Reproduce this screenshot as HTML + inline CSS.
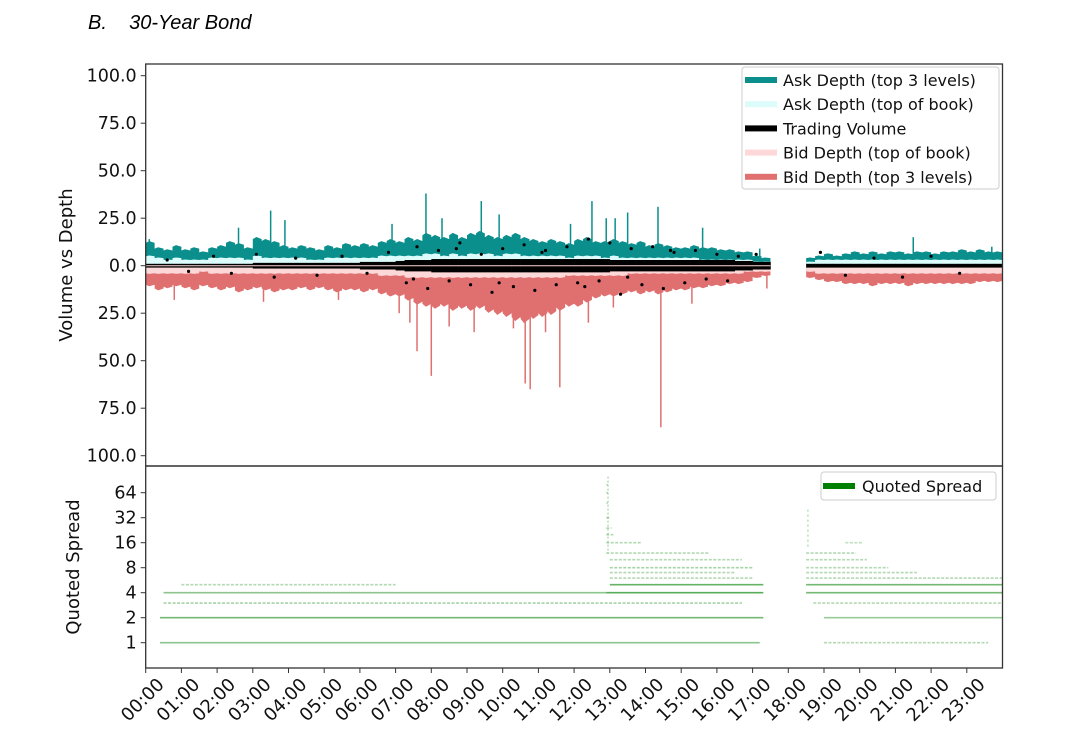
<!DOCTYPE html>
<html><head><meta charset="utf-8"><style>
body{margin:0;background:#fff;}
svg{display:block;font-family:"DejaVu Sans","Liberation Sans",sans-serif;}
</style></head><body>
<svg id="chart" width="1081" height="744" viewBox="0 0 1081 744" xmlns="http://www.w3.org/2000/svg">
<text x="88" y="29" font-family="Liberation Sans, sans-serif" font-style="italic" font-size="20">B.&#160;&#160;&#160;&#160;30-Year Bond</text>
<g id="topG"></g><g id="botG"></g>
</svg>
<script>
const hoursLabels=["00:00","01:00","02:00","03:00","04:00","05:00","06:00","07:00","08:00","09:00","10:00","11:00","12:00","13:00","14:00","15:00","16:00","17:00","18:00","19:00","20:00","21:00","22:00","23:00"];
const depthTicks=[100,75,50,25,0,-25,-50,-75,-100];
const spreadTicks=[64,32,16,8,4,2,1];
// 15-minute bins, null = no trading
const ask3=[12,9,8,10, 8,9,7,9, 10,12,11,9, 14,13,12,10, 9,10,9,8, 10,9,11,10, 11,10,12,13, 12,14,13,16, 15,14,16,14, 16,17,15,14, 15,16,14,13, 12,13,12,11, 13,14,12,12, 13,12,11,12, 10,11,10,9, 9,10,9,9, 8,8,7,7, 5,4,null,null, null,null,4,5, 6,5,6,7, 6,7,6,7, 7,6,7,7, 6,7,7,8, 7,8,7,7];
const askTob=[5,4,3,4, 3,3,3,4, 4,4,4,3, 5,4,4,4, 4,4,3,3, 4,4,4,4, 4,4,5,5, 5,5,5,6, 6,5,6,5, 6,6,6,5, 6,6,5,5, 5,5,5,4, 5,5,5,4, 5,4,4,4, 4,4,4,4, 4,4,3,3, 3,3,3,3, 2,2,null,null, null,null,2,3, 3,3,3,3, 3,3,3,3, 3,3,3,3, 3,3,3,3, 3,3,3,3];
const bid3=[-10,-12,-11,-10, -11,-12,-10,-11, -12,-11,-13,-12, -11,-12,-13,-12, -12,-11,-12,-11, -12,-13,-12,-12, -13,-12,-14,-15, -15,-17,-19,-20, -21,-20,-22,-21, -22,-21,-23,-24, -25,-27,-28,-26, -25,-24,-22,-20, -20,-18,-16,-15, -15,-14,-13,-14, -13,-14,-13,-12, -12,-11,-11,-10, -10,-9,-9,-8, -6,-5,null,null, null,null,-6,-7, -8,-8,-9,-9, -9,-10,-9,-9, -9,-10,-9,-9, -9,-9,-9,-9, -9,-8,-8,-8];
const bidTob=[-4,-4,-4,-4, -4,-4,-3,-4, -4,-4,-4,-4, -4,-4,-4,-4, -4,-4,-4,-4, -4,-4,-4,-4, -4,-4,-5,-5, -5,-6,-6,-6, -6,-6,-6,-6, -6,-6,-6,-6, -6,-6,-6,-6, -6,-6,-6,-5, -5,-5,-5,-5, -5,-5,-4,-4, -4,-4,-4,-4, -4,-4,-4,-4, -4,-4,-4,-3, -3,-3,null,null, null,null,-3,-4, -4,-4,-4,-4, -4,-4,-4,-4, -4,-4,-4,-4, -4,-4,-4,-4, -4,-4,-4,-4];
const volume=[1,1,1,1, 1,1,1,1, 1,1,1,1, 1.5,1.5,1.5,1.5, 1.5,1.5,1.5,1.5, 1.5,1.5,1.5,1.5, 2,2,2,2, 2.5,3,3,3, 3.5,3.5,3.5,3.5, 3.5,3.5,3.5,3.5, 3.5,3.5,3.5,3.5, 3.5,3.5,3.5,3.5, 3.5,3.5,3.5,3.5, 3,3,3,3, 3,3,3,3, 3,3,3,3, 3,3,2.5,2.5, 2,2,null,null, null,null,1,1, 1,1,1,1, 1,1,1,1, 1,1,1,1, 1,1,1,1, 1,1,1,1];
const askSpikeHours=[0.1,2.6,3.5,3.9,6.9,7.85,8.3,9.4,9.9,11.9,12.5,12.9,13.15,13.5,14.35,15.6,17.2,21.5,23.7];
const askSpikeValues=[14,20,29,24,22,38,25,34,27,22,34,25,25,28,31,20,9,15,10];
const bidSpikeHours=[0.8,3.3,5.4,7.1,7.4,7.6,8.0,8.5,9.2,10.3,10.63,10.77,11.2,11.6,12.4,13.1,14.43,15.3,17.4];
const bidSpikeValues=[-18,-19,-18,-25,-30,-45,-58,-32,-35,-33,-62,-65,-35,-64,-30,-22,-85,-20,-12];
const dotHours=[0.6,1.2,1.9,2.4,3.1,3.6,4.2,4.8,5.5,6.2,6.8,7.3,7.6,7.9,8.2,8.5,8.8,9.1,9.4,9.7,10.0,10.3,10.6,10.9,11.2,11.5,11.8,12.1,12.4,12.7,13.0,13.3,13.6,13.9,14.2,14.5,14.8,15.1,15.4,15.7,16.0,16.3,16.6,17.1,18.9,19.6,20.4,21.2,22.0,22.8,7.5,8.7,9.9,11.1,12.3,13.5,14.7];
const dotValues=[3,-3,5,-4,6,-6,4,-5,5,-4,7,-9,10,-12,8,-8,12,-10,6,-14,9,-11,11,-13,8,-10,10,-9,14,-8,12,-15,9,-10,10,-12,7,-9,8,-7,6,-8,5,6,7,-5,4,-6,5,-4,-7,9,-9,7,-11,-6,8];
const spreadLevel=[1,1,2,2,3,3,4,4,4,5,5,5,6,6,7,7,8,8,10,10,12,12,16,16,20,24,32,48,64,80];
const spreadStart=[0.4,19.0,0.4,19.0,0.5,18.7,0.5,12.9,18.5,1.0,13.0,18.5,13.0,18.5,13.0,18.5,13.0,18.5,13.0,18.5,12.9,18.5,12.9,19.6,12.9,12.9,12.9,12.9,12.9,12.9];
const spreadEnd=[17.2,23.6,17.3,24,16.7,24,12.9,17.3,24,7.0,17.3,24,17.0,24,16.5,21.6,17.0,20.8,16.7,20.2,15.8,19.9,13.9,20.1,13.1,13.05,13.0,12.95,12.95,12.95];
const spreadAlpha=[0.45,0.3,0.55,0.4,0.35,0.3,0.45,0.65,0.55,0.3,0.6,0.55,0.3,0.3,0.3,0.3,0.35,0.3,0.3,0.3,0.3,0.3,0.3,0.25,0.3,0.3,0.3,0.25,0.3,0.25];

const NS="http://www.w3.org/2000/svg";
const X0=145.7,PXH=35.7,X1=1002.5;
const T0=64,T1=466,B1=668;
const xS=h=>X0+h*PXH;
const yD=v=>265.7-v*1.9;
const yQ=v=>642.7-Math.log2(v)*25;
const topG=document.getElementById('topG'),botG=document.getElementById('botG');
function mk(p,tag,at){const e=document.createElementNS(NS,tag);for(const k in at)e.setAttribute(k,at[k]);p.appendChild(e);return e;}

function area(arr,color,name){
  let segs=[],cur=[];
  arr.forEach((v,i)=>{if(v===null){if(cur.length)segs.push(cur);cur=[];}else cur.push([i,v]);});
  if(cur.length)segs.push(cur);
  segs.forEach(s=>{
    let d=`M${xS(s[0][0]*0.25)},${yD(0)}`;
    s.forEach(([i,v])=>{d+=`L${xS(i*0.25)},${yD(v)}L${xS(i*0.25+0.1)},${yD(v*1.08)}L${xS(i*0.25+0.25)},${yD(v)}`;});
    d+=`L${xS(s[s.length-1][0]*0.25+0.25)},${yD(0)}Z`;
    const p=mk(topG,'path',{d:d,fill:color});
    
    
  });
}
function bandArea(arr,color,name){
  arr.forEach((v,i)=>{if(v===null)return;
    const r=mk(topG,'rect',{x:xS(i*0.25),y:yD(v),width:PXH*0.25+0.3,height:yD(-v)-yD(v),fill:color});
    
    
  });
}
area(ask3,'#0a8f8c','ask-depth-top3');
askSpikeHours.forEach((h,i)=>{const l=mk(topG,'line',{x1:xS(h),x2:xS(h),y1:yD(0),y2:yD(askSpikeValues[i]),stroke:'#0a8f8c','stroke-width':1.5});
  });
area(askTob,'#dcfcfc','ask-depth-top-of-book');
area(bid3,'#e07070','bid-depth-top3');
bidSpikeHours.forEach((h,i)=>{const l=mk(topG,'line',{x1:xS(h),x2:xS(h),y1:yD(0),y2:yD(bidSpikeValues[i]),stroke:'#e07070','stroke-width':1.5});
  });
area(bidTob,'#fdd8d8','bid-depth-top-of-book');
bandArea(volume,'#000','trading-volume-band');
mk(topG,'line',{x1:X0,x2:xS(17.5),y1:yD(0),y2:yD(0),stroke:'#fdd8d8','stroke-width':1});
dotHours.forEach((h,i)=>{const c=mk(topG,'circle',{cx:xS(h),cy:yD(dotValues[i]),r:1.6,fill:'#000'});
  });

const fr=mk(topG,'rect',{x:X0,y:T0,width:X1-X0,height:T1-T0,fill:'none',stroke:'#333','stroke-width':1.3});

depthTicks.forEach(v=>{
  mk(topG,'line',{x1:X0-5,x2:X0,y1:yD(v),y2:yD(v),stroke:'#333'});
  const t=mk(topG,'text',{x:X0-9,y:yD(v)+6,'text-anchor':'end','font-size':17.5,fill:'#111'});
  t.textContent=Math.abs(v).toFixed(1);
  
});
const yl=mk(topG,'text',{x:0,y:0,transform:'translate(72,265) rotate(-90)','text-anchor':'middle','font-size':18,fill:'#111'});
yl.textContent='Volume vs Depth';

const lg=mk(topG,'g',{});
mk(lg,'rect',{x:742,y:67,width:257,height:122,rx:3,fill:'#fff',stroke:'#ccc'});
const legNames=['Ask Depth (top 3 levels)','Ask Depth (top of book)','Trading Volume','Bid Depth (top of book)','Bid Depth (top 3 levels)'];
const legCols=['#0a8f8c','#dcfcfc','#000','#fdd8d8','#e07070'];
legNames.forEach((n,i)=>{const y=80+i*24.2;
  mk(lg,'rect',{x:745,y:y-3,width:32,height:6,fill:legCols[i]});
  const t=mk(lg,'text',{x:783,y:y+6,'font-size':16,fill:'#111'});t.textContent=n;
  });

spreadLevel.forEach((lv,i)=>{
  const y=yQ(lv);
  const l=mk(botG,'line',{x1:xS(spreadStart[i]),x2:xS(spreadEnd[i]),y1:y,y2:y,stroke:'#008000','stroke-opacity':spreadAlpha[i],'stroke-width':1.6,'stroke-dasharray':spreadAlpha[i]<0.4?'3 1.5':'none'});
  
});
const vs=mk(botG,'line',{x1:xS(12.95),x2:xS(12.95),y1:yQ(100),y2:yQ(12),stroke:'#008000','stroke-opacity':0.35,'stroke-width':1.2,'stroke-dasharray':'2 2'});

const vs2=mk(botG,'line',{x1:xS(18.55),x2:xS(18.55),y1:yQ(40),y2:yQ(14),stroke:'#008000','stroke-opacity':0.35,'stroke-width':1.2,'stroke-dasharray':'2 3'});

const fr2=mk(botG,'rect',{x:X0,y:T1,width:X1-X0,height:B1-T1,fill:'none',stroke:'#333','stroke-width':1.3});

spreadTicks.forEach(v=>{
  mk(botG,'line',{x1:X0-5,x2:X0,y1:yQ(v),y2:yQ(v),stroke:'#333'});
  const t=mk(botG,'text',{x:X0-9,y:yQ(v)+6,'text-anchor':'end','font-size':17.5,fill:'#111'});
  t.textContent=v;
});
const yl2=mk(botG,'text',{x:0,y:0,transform:'translate(79,567) rotate(-90)','text-anchor':'middle','font-size':18,fill:'#111'});
yl2.textContent='Quoted Spread';
const lg2=mk(botG,'g',{});
mk(lg2,'rect',{x:821,y:472,width:175,height:28,rx:3,fill:'#fff',stroke:'#ccc'});
mk(lg2,'rect',{x:823,y:483,width:32,height:6,fill:'#008000'});
const lt=mk(lg2,'text',{x:862,y:492,'font-size':16,fill:'#111'});lt.textContent='Quoted Spread';


hoursLabels.forEach((lab,i)=>{
  const x=xS(i);
  mk(botG,'line',{x1:x,x2:x,y1:B1,y2:B1+5,stroke:'#333'});
  const t=mk(botG,'text',{x:0,y:0,transform:`translate(${x+1},${B1+36}) rotate(-45)`,'text-anchor':'middle','font-size':18,fill:'#111'});
  t.textContent=lab;
});
</script>
</body></html>
